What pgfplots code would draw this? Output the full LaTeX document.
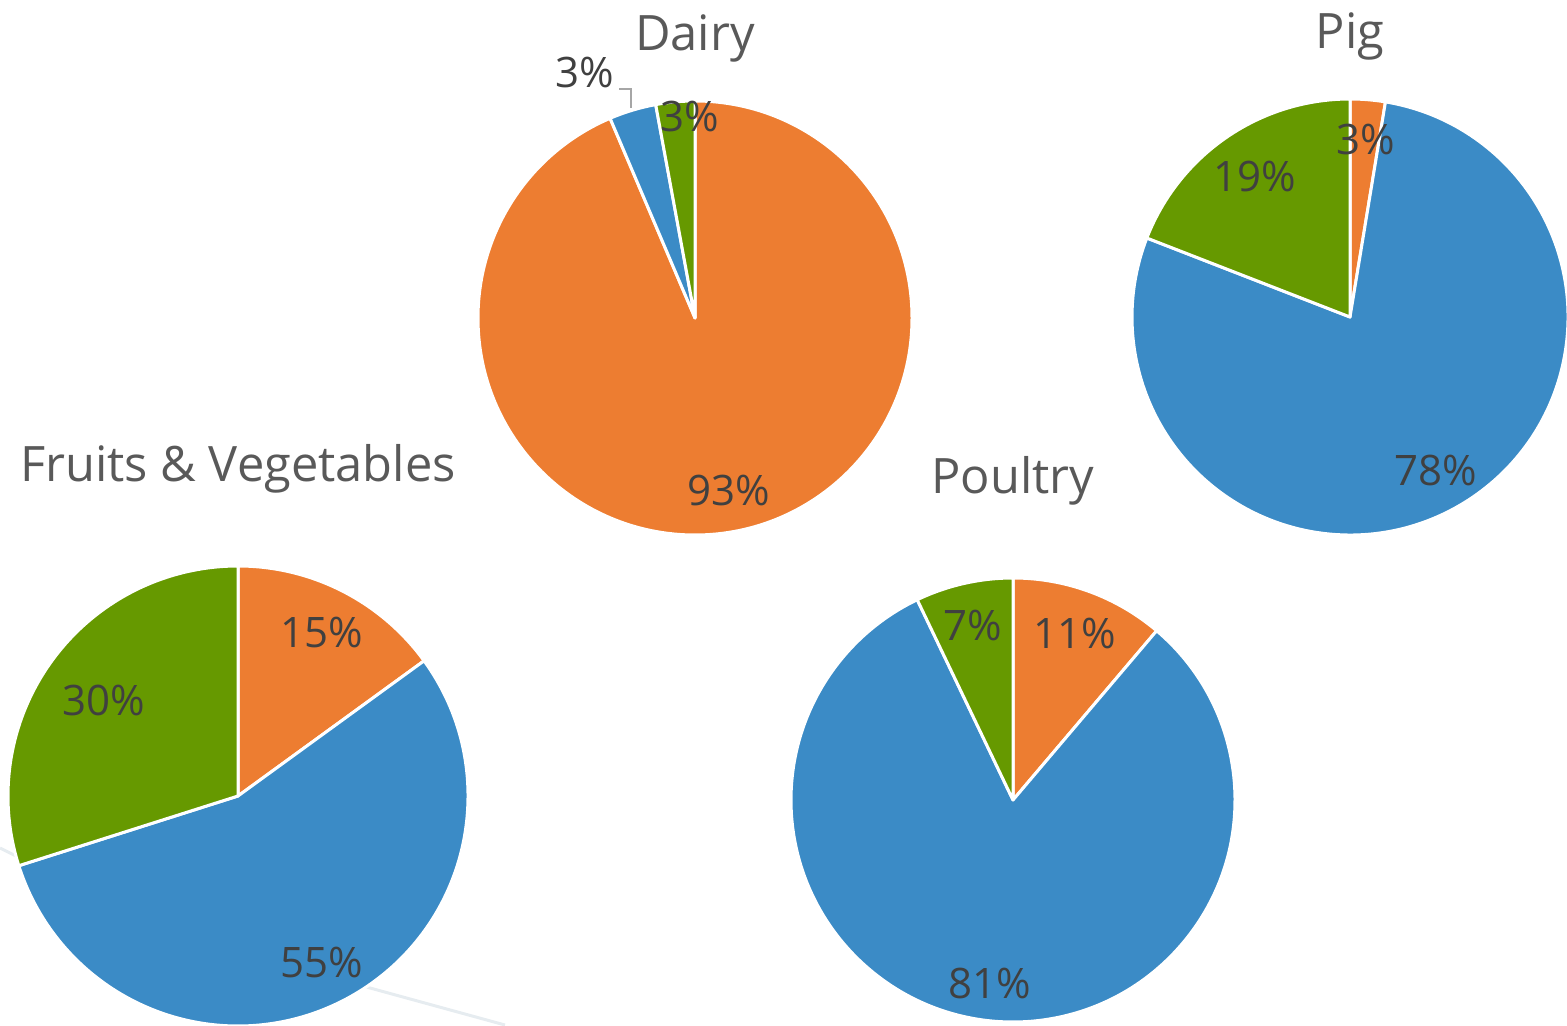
\documentclass[border=0pt]{standalone}
\usepackage{pgfplots}
\pgfplotsset{compat=1.18}
\usepackage{fontspec}
\setmainfont{Open Sans}
\definecolor{cOrange}{HTML}{ED7D31}
\definecolor{cBlue}{HTML}{3B8BC6}
\definecolor{cGreen}{HTML}{669900}
\definecolor{cTitle}{HTML}{595959}
\definecolor{cLabel}{HTML}{404040}
\definecolor{cFaint}{HTML}{E6ECF0}
% one slice: cx cy r(px) start% end% colour
\newcommand{\slice}[6]{%
  \filldraw[fill=#6, draw=white, line width=1.5pt, line join=round]
    (axis cs:#1,#2) -- ++({90-3.6*(#4)}:{(#3)*0.5pt})
    arc[start angle={90-3.6*(#4)}, end angle={90-3.6*(#5)}, radius={(#3)*0.5pt}] -- cycle;}
% pie: cx cy r orange blue green (percent, clockwise from 12 o'clock)
\newcommand{\pie}[6]{%
  \slice{#1}{#2}{#3}{0}{#4}{cOrange}
  \slice{#1}{#2}{#3}{#4}{#4+#5}{cBlue}
  \slice{#1}{#2}{#3}{#4+#5}{100}{cGreen}}
\begin{document}
\begin{tikzpicture}
\begin{axis}[
  x=0.5pt, y=0.5pt, xmin=0, xmax=1567, ymin=0, ymax=1026,
  y dir=reverse, hide axis, clip=false,
]
\addplot[draw=none] coordinates {(0,0) (1567,1026)};
% faint background lines
\draw[cFaint, line width=1.5pt] (axis cs:0,848) -- (axis cs:40,868);
\draw[cFaint, line width=1.5pt] (axis cs:330,977) -- (axis cs:505,1025);
% pies
\pie{695}{318}{217}{93.6}{3.5}{2.9}     % Dairy
\pie{1350}{317}{218}{2.6}{78.3}{19.1}   % Pig
\pie{238}{796}{230}{15.0}{55.1}{29.9}   % Fruits & Vegetables
\pie{1013}{800}{222}{11.2}{81.7}{7.1}   % Poultry
% leader line
\draw[gray!70, line width=0.75pt] (axis cs:619,89) -- (axis cs:631,89) -- (axis cs:631,108);
% titles
\begin{scope}[every node/.style={font=\fontsize{24.4}{28}\selectfont, text=cTitle, anchor=base, inner sep=0pt}]
\node at (axis cs:695,51) {Dairy};
\node at (axis cs:1350,49) {Pig};
\node at (axis cs:238,481) {Fruits \& Vegetables};
\node at (axis cs:1013,493) {Poultry};
\end{scope}
% data labels
\begin{scope}[every node/.style={font=\fontsize{21}{25}\selectfont, text=cLabel, anchor=base, inner sep=0pt}]
\node at (axis cs:729,505) {93\%};
\node at (axis cs:690,132) {3\%};
\node at (axis cs:585,88) {3\%};
\node at (axis cs:1366,155) {3\%};
\node at (axis cs:1436,485) {78\%};
\node at (axis cs:1255,192) {19\%};
\node at (axis cs:322,647) {15\%};
\node at (axis cs:322,977) {55\%};
\node at (axis cs:104,715) {30\%};
\node at (axis cs:1075,648) {11\%};
\node at (axis cs:990,998) {81\%};
\node at (axis cs:973,640) {7\%};
\end{scope}
\end{axis}
\pgfresetboundingbox
\path (current axis.south west) rectangle (current axis.north east);
\end{tikzpicture}
\end{document}
